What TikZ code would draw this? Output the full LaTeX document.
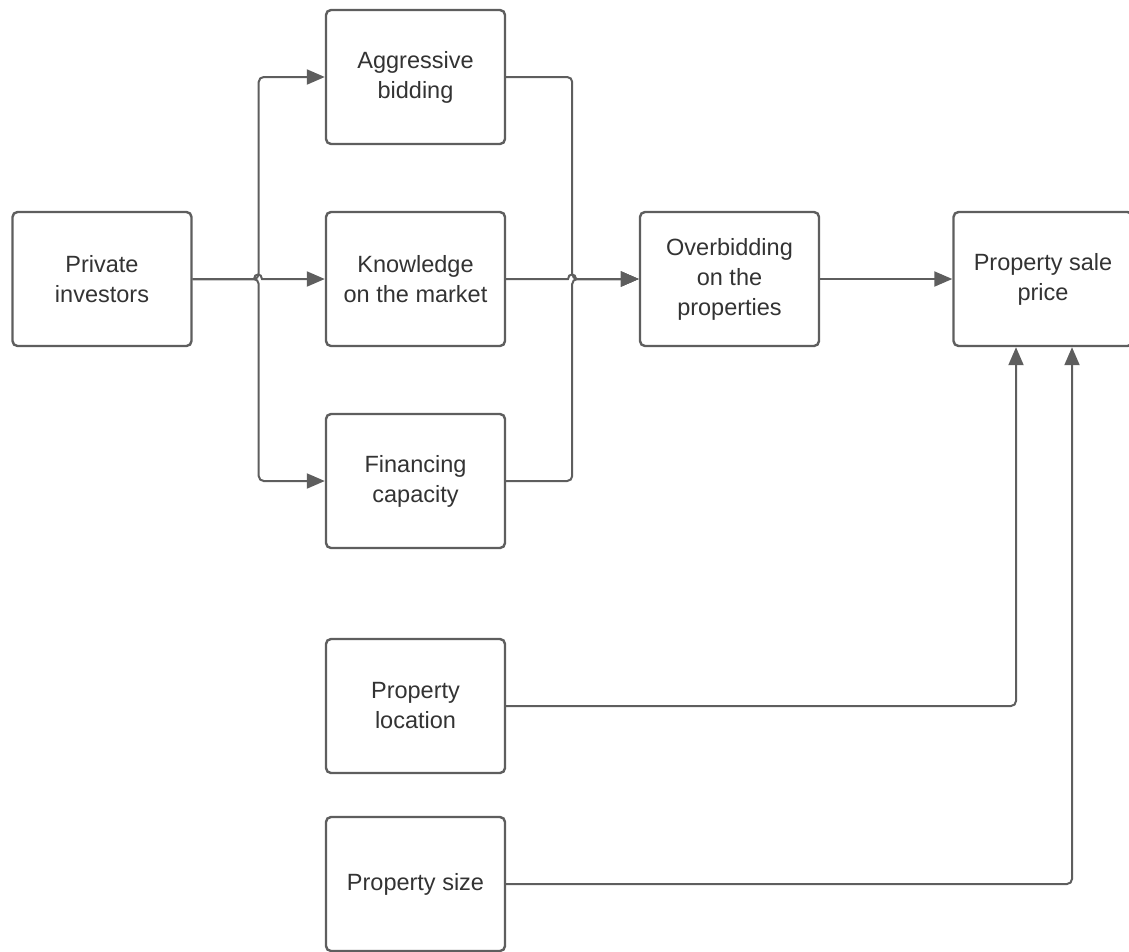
\documentclass[tikz,border=0pt]{standalone}
\usepackage{fontspec}
\setmainfont{Liberation Sans}
\usetikzlibrary{arrows.meta}
\definecolor{ln}{HTML}{5E5E5E}
\definecolor{tx}{HTML}{333333}
\begin{document}
\begin{tikzpicture}[x=1pt,y=-1pt,
 box/.style={draw=ln,line width=2.4pt,rounded corners=5pt,minimum width=179pt,minimum height=134pt,align=center,font=\fontsize{23.5}{30}\selectfont,text=tx,fill=white,inner sep=0pt},
 conn/.style={draw=ln,line width=2pt,rounded corners=5pt},
 arr/.style={-{Triangle[length=18pt,width=15pt]}}]
\useasboundingbox (0,0) rectangle (1129,951);
\node[box] (pi) at (102,279) {Private\\investors};
\node[box] (ab) at (415.5,77) {Aggressive\\bidding};
\node[box] (km) at (415.5,279) {Knowledge\\on the market};
\node[box] (fc) at (415.5,481) {Financing\\capacity};
\node[box] (ob) at (729.5,279) {Overbidding\\on the\\properties};
\node[box] (ps) at (1043,279) {Property sale\\price};
\node[box] (pl) at (415.5,706) {Property\\location};
\node[box] (sz) at (415.5,884) {Property size};
\coordinate (psa) at ([xshift=-27pt]ps.south);
\coordinate (psb) at ([xshift=29pt]ps.south);
\coordinate (h1a) at (254,279);
\coordinate (h1b) at (262,279);
\coordinate (h2a) at (568,279);
\coordinate (h2b) at (576,279);
% left fan
\draw[conn,arr] (pi.east) -- ++(66,0) |- (ab.west);
\draw[conn,arr] (pi.east) -- ++(66,0) |- (fc.west);
\draw[draw=ln,line width=2pt,arr] (pi.east) -- (h1a) .. controls +(0,-6) and +(0,-6) .. (h1b) -- (km.west);
% right fan
\draw[conn,arr] (ab.east) -- ++(66,0) |- (ob.west);
\draw[conn,arr] (fc.east) -- ++(66,0) |- (ob.west);
\draw[draw=ln,line width=2pt,arr] (km.east) -- (h2a) .. controls +(0,-6) and +(0,-6) .. (h2b) -- (ob.west);
\draw[conn,arr] (ob.east) -- (ps.west);
\draw[conn,arr] (pl.east) -| (psa);
\draw[conn,arr] (sz.east) -| (psb);
\end{tikzpicture}
\end{document}
